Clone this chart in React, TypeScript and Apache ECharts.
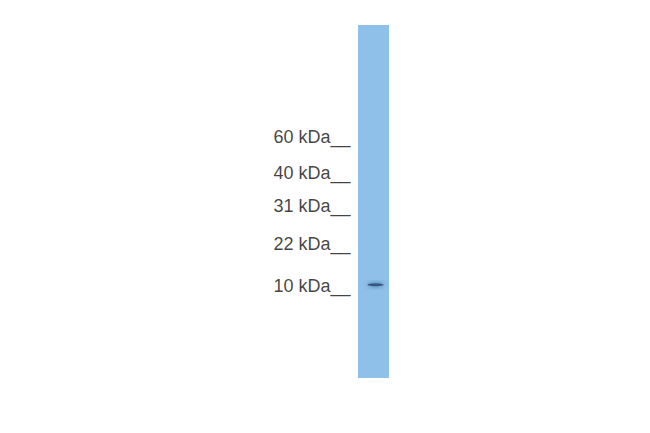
import { useEffect, useRef } from "react";
import * as echarts from "echarts";

// marker ladder: label (kDa) and position down the lane (% of lane length)
const MARKER_KDA = [60, 40, 31, 22, 10];
const MARKER_POS = [31.8, 42.0, 51.4, 62.0, 73.8];
// detected band(s): position down the lane (%)
const BAND_POS = [73.6];
const LANE_LENGTH = [100];

const FONT = "'Liberation Sans', Arial, sans-serif";

export default function App() {
  const ref = useRef<HTMLDivElement>(null);
  useEffect(() => {
    if (!ref.current) return;
    const chart = echarts.init(ref.current, null, { renderer: "svg" });
    chart.setOption({
      animation: false,
      backgroundColor: "#ffffff",
      grid: { left: 358, width: 31, top: 25, height: 353 },
      xAxis: { type: "category", data: ["lane"], show: false, boundaryGap: true },
      yAxis: { type: "value", min: 0, max: 100, inverse: true, show: false },
      series: [
        {
          type: "bar", name: "lane", barWidth: "100%", silent: true,
          itemStyle: { color: "#8ec0ea" },
          data: LANE_LENGTH,
        },
        {
          type: "scatter", name: "markers", symbolSize: 0, silent: true,
          label: {
            show: true, position: "left", distance: 23,
            fontFamily: FONT, fontSize: 18, color: "#111111",
            formatter: (p: any) => `${MARKER_KDA[p.dataIndex]} kDa__`,
          },
          data: MARKER_POS.map((y) => [0, y]),
        },
        {
          type: "scatter", name: "band", symbol: "circle", symbolSize: [16, 3],
          symbolOffset: [2, 0], silent: true,
          itemStyle: { color: "#26486a", shadowBlur: 5, shadowColor: "rgba(30,62,96,0.8)" },
          data: BAND_POS.map((y) => [0, y]),
        },
      ],
    });
    return () => chart.dispose();
  }, []);
  return (
    <div
      ref={ref}
      style={{ position: "fixed", left: 0, top: 0, width: 650, height: 433 }}
    />
  );
}
